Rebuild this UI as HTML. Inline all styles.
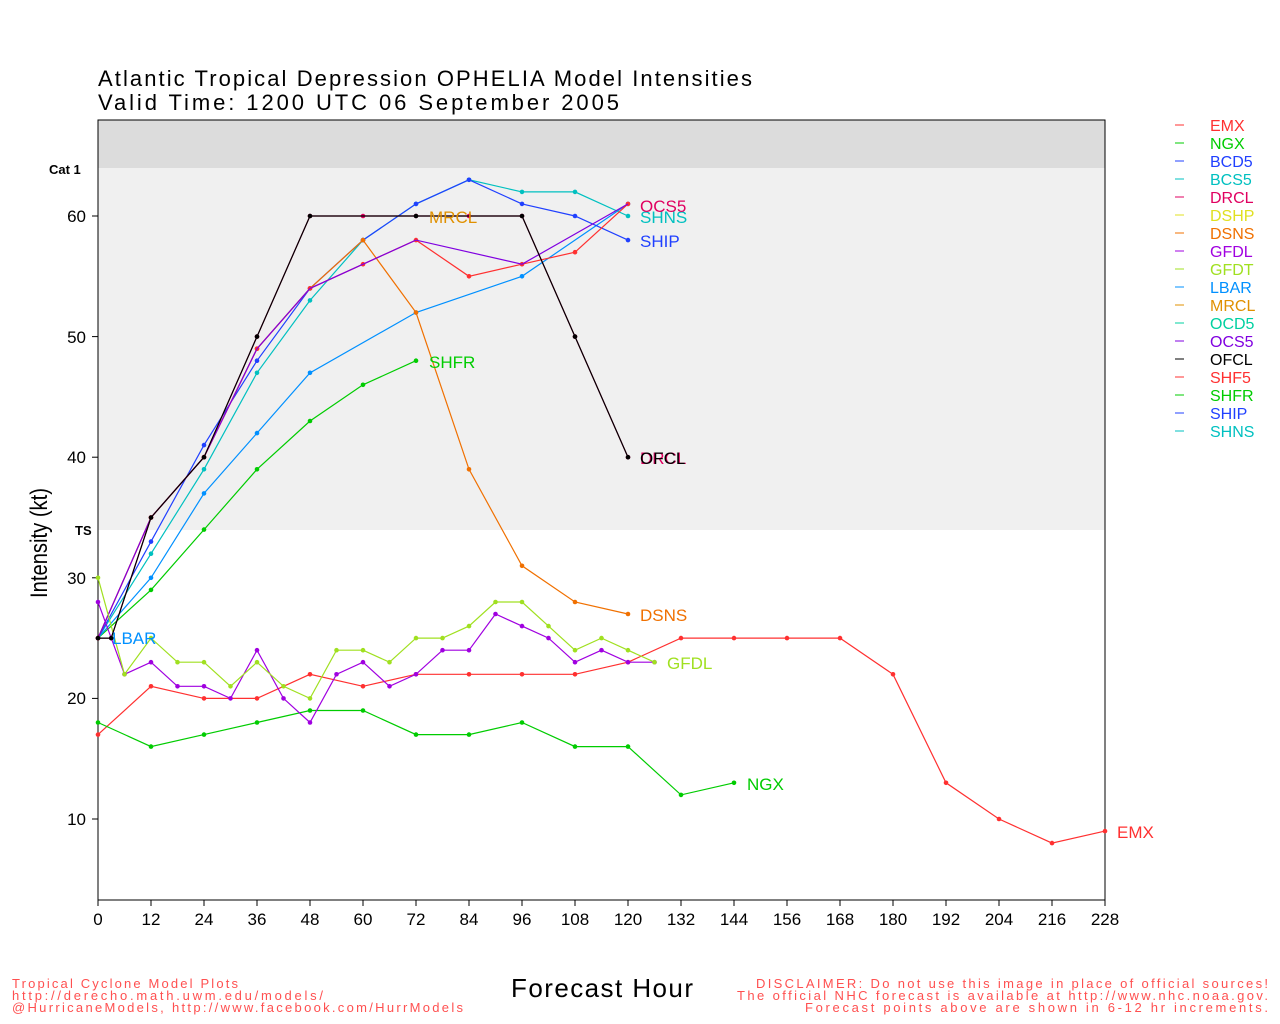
<!DOCTYPE html>
<html><head><meta charset="utf-8"><style>
html,body{margin:0;padding:0;background:#fff;}
svg{display:block;font-family:"Liberation Sans",sans-serif;}
</style></head><body>
<svg width="1280" height="1024" xmlns="http://www.w3.org/2000/svg">
<defs>
<marker id="m1" markerWidth="6" markerHeight="6" refX="3" refY="3" markerUnits="userSpaceOnUse"><circle cx="3" cy="3" r="2.3" fill="#ff3030"/></marker>
<marker id="m2" markerWidth="6" markerHeight="6" refX="3" refY="3" markerUnits="userSpaceOnUse"><circle cx="3" cy="3" r="2.3" fill="#00cc00"/></marker>
<marker id="m3" markerWidth="6" markerHeight="6" refX="3" refY="3" markerUnits="userSpaceOnUse"><circle cx="3" cy="3" r="2.3" fill="#0090ff"/></marker>
<marker id="m4" markerWidth="6" markerHeight="6" refX="3" refY="3" markerUnits="userSpaceOnUse"><circle cx="3" cy="3" r="2.3" fill="#00c0c0"/></marker>
<marker id="m5" markerWidth="6" markerHeight="6" refX="3" refY="3" markerUnits="userSpaceOnUse"><circle cx="3" cy="3" r="2.3" fill="#2040ff"/></marker>
<marker id="m6" markerWidth="6" markerHeight="6" refX="3" refY="3" markerUnits="userSpaceOnUse"><circle cx="3" cy="3" r="2.3" fill="#f07000"/></marker>
<marker id="m8" markerWidth="6" markerHeight="6" refX="3" refY="3" markerUnits="userSpaceOnUse"><circle cx="3" cy="3" r="2.3" fill="#a000e0"/></marker>
<marker id="m9" markerWidth="6" markerHeight="6" refX="3" refY="3" markerUnits="userSpaceOnUse"><circle cx="3" cy="3" r="2.3" fill="#a0e020"/></marker>
<marker id="m10" markerWidth="6" markerHeight="6" refX="3" refY="3" markerUnits="userSpaceOnUse"><circle cx="3" cy="3" r="2.3" fill="#e00060"/></marker>
<marker id="m11" markerWidth="6" markerHeight="6" refX="3" refY="3" markerUnits="userSpaceOnUse"><circle cx="3" cy="3" r="2.3" fill="#000"/></marker>
</defs>
<rect x="98" y="120" width="1007" height="48" fill="#dcdcdc"/>
<rect x="98" y="168" width="1007" height="362" fill="#f0f0f0"/>
<rect x="98" y="120" width="1007" height="780" fill="none" stroke="#000" stroke-width="1"/>
<text x="98" y="86" font-size="22" textLength="654" lengthAdjust="spacing">Atlantic Tropical Depression OPHELIA Model Intensities</text>
<text x="98" y="110" font-size="22" textLength="521" lengthAdjust="spacing">Valid Time: 1200 UTC 06 September 2005</text>
<text x="49" y="174" font-size="13" font-weight="bold">Cat 1</text>
<text x="75" y="535" font-size="13" font-weight="bold">TS</text>
<text transform="translate(47,543) rotate(-90)" font-size="24" text-anchor="middle" textLength="110" lengthAdjust="spacingAndGlyphs">Intensity (kt)</text>
<text x="511" y="997" font-size="26" textLength="182" lengthAdjust="spacing">Forecast Hour</text>
<g font-size="13" fill="#ff5050">
<text x="12" y="988" textLength="226" lengthAdjust="spacing">Tropical Cyclone Model Plots</text>
<text x="12" y="1000" textLength="311" lengthAdjust="spacing">http://derecho.math.uwm.edu/models/</text>
<text x="12" y="1012" textLength="451" lengthAdjust="spacing">@HurricaneModels, http://www.facebook.com/HurrModels</text>
<text x="756" y="988" textLength="512" lengthAdjust="spacing">DISCLAIMER: Do not use this image in place of official sources!</text>
<text x="737" y="1000" textLength="531" lengthAdjust="spacing">The official NHC forecast is available at http://www.nhc.noaa.gov.</text>
<text x="805" y="1012" textLength="463" lengthAdjust="spacing">Forecast points above are shown in 6-12 hr increments.</text>
</g>
<g stroke="#000">
<line x1="98" y1="900" x2="98" y2="906"/><line x1="151" y1="900" x2="151" y2="906"/><line x1="204" y1="900" x2="204" y2="906"/><line x1="257" y1="900" x2="257" y2="906"/><line x1="310" y1="900" x2="310" y2="906"/><line x1="363" y1="900" x2="363" y2="906"/><line x1="416" y1="900" x2="416" y2="906"/><line x1="469" y1="900" x2="469" y2="906"/><line x1="522" y1="900" x2="522" y2="906"/><line x1="575" y1="900" x2="575" y2="906"/><line x1="628" y1="900" x2="628" y2="906"/><line x1="681" y1="900" x2="681" y2="906"/><line x1="734" y1="900" x2="734" y2="906"/><line x1="787" y1="900" x2="787" y2="906"/><line x1="840" y1="900" x2="840" y2="906"/><line x1="893" y1="900" x2="893" y2="906"/><line x1="946" y1="900" x2="946" y2="906"/><line x1="999" y1="900" x2="999" y2="906"/><line x1="1052" y1="900" x2="1052" y2="906"/><line x1="1105" y1="900" x2="1105" y2="906"/>
<line x1="92" y1="819" x2="98" y2="819"/><line x1="92" y1="698.4" x2="98" y2="698.4"/><line x1="92" y1="577.8" x2="98" y2="577.8"/><line x1="92" y1="457.2" x2="98" y2="457.2"/><line x1="92" y1="336.6" x2="98" y2="336.6"/><line x1="92" y1="216" x2="98" y2="216"/>
</g>
<g font-size="17" text-anchor="middle">
<text x="98" y="925">0</text><text x="151" y="925">12</text><text x="204" y="925">24</text><text x="257" y="925">36</text><text x="310" y="925">48</text><text x="363" y="925">60</text><text x="416" y="925">72</text><text x="469" y="925">84</text><text x="522" y="925">96</text><text x="575" y="925">108</text><text x="628" y="925">120</text><text x="681" y="925">132</text><text x="734" y="925">144</text><text x="787" y="925">156</text><text x="840" y="925">168</text><text x="893" y="925">180</text><text x="946" y="925">192</text><text x="999" y="925">204</text><text x="1052" y="925">216</text><text x="1105" y="925">228</text>
</g>
<g font-size="17" text-anchor="end">
<text x="86" y="825">10</text><text x="86" y="704">20</text><text x="86" y="584">30</text><text x="86" y="463">40</text><text x="86" y="343">50</text><text x="86" y="222">60</text>
</g>
<g fill="none" stroke-width="1.2">
<polyline stroke="#ff3030" marker-start="url(#m1)" marker-mid="url(#m1)" marker-end="url(#m1)" points="98,734.6 151,686.3 204,698.4 257,698.4 310,674.3 363,686.3 416,674.3 469,674.3 522,674.3 575,674.3 628,662.2 681,638.1 734,638.1 787,638.1 840,638.1 893,674.3 946,782.8 999,819 1052,843.1 1105,831.1"/>
<polyline stroke="#00cc00" marker-start="url(#m2)" marker-mid="url(#m2)" marker-end="url(#m2)" points="98,722.5 151,746.6 204,734.6 257,722.5 310,710.5 363,710.5 416,734.6 469,734.6 522,722.5 575,746.6 628,746.6 681,794.9 734,782.8"/>
<polyline stroke="#00cc00" marker-start="url(#m2)" marker-mid="url(#m2)" marker-end="url(#m2)" points="98,638.1 151,589.9 204,529.6 257,469.3 310,421 363,384.8 416,360.7"/>
<polyline stroke="#0090ff" marker-start="url(#m3)" marker-mid="url(#m3)" marker-end="url(#m3)" points="98,638.1 151,577.8 204,493.4 257,433.1 310,372.8 416,312.5 522,276.3 628,203.9"/>
<polyline stroke="#00c0c0" marker-start="url(#m4)" marker-mid="url(#m4)" marker-end="url(#m4)" points="98,638.1 151,553.7 204,469.3 257,372.8 310,300.4 363,240.1 416,203.9 469,179.8 522,191.9 575,191.9 628,216"/>
<polyline stroke="#2040ff" marker-start="url(#m5)" marker-mid="url(#m5)" marker-end="url(#m5)" points="98,638.1 151,541.6 204,445.1 257,360.7 310,288.4 363,240.1 416,203.9 469,179.8 522,203.9 575,216 628,240.1"/>
<polyline stroke="#f07000" marker-start="url(#m6)" marker-mid="url(#m6)" marker-end="url(#m6)" points="98,638.1 151,517.5 204,457.2 257,348.7 310,288.4 363,240.1 416,312.5 469,469.3 522,565.8 575,602 628,614"/>
<polyline stroke="#ff3030" marker-start="url(#m1)" marker-mid="url(#m1)" marker-end="url(#m1)" points="98,638.1 151,517.5 204,457.2 257,348.7 310,288.4 363,264.2 416,240.1 469,276.3 522,264.2 575,252.2 628,203.9"/>
<polyline stroke="#8000e0" points="98,638.1 151,517.5 204,457.2 257,348.7 310,288.4 363,264.2 416,240.1 522,264.2 628,203.9"/>
<polyline stroke="#a000e0" marker-start="url(#m8)" marker-mid="url(#m8)" marker-end="url(#m8)" points="98,602 124.5,674.3 151,662.2 177.5,686.3 204,686.3 230.5,698.4 257,650.2 283.5,698.4 310,722.5 336.5,674.3 363,662.2 389.5,686.3 416,674.3 442.5,650.2 469,650.2 495.5,614 522,626.1 548.5,638.1 575,662.2 601.5,650.2 628,662.2 654.5,662.2"/>
<polyline stroke="#a0e020" marker-start="url(#m9)" marker-mid="url(#m9)" marker-end="url(#m9)" points="98,577.8 124.5,674.3 151,638.1 177.5,662.2 204,662.2 230.5,686.3 257,662.2 283.5,686.3 310,698.4 336.5,650.2 363,650.2 389.5,662.2 416,638.1 442.5,638.1 469,626.1 495.5,602 522,602 548.5,626.1 575,650.2 601.5,638.1 628,650.2 654.5,662.2"/>
<polyline stroke="#e00060" marker-start="url(#m10)" marker-mid="url(#m10)" marker-end="url(#m10)" points="98,638.1 111.2,638.1 151,517.5 204,457.2 257,336.6 310,216 363,216 416,216 469,216 522,216 575,336.6 628,457.2"/>
<polyline stroke="#000" marker-start="url(#m11)" marker-mid="url(#m11)" marker-end="url(#m11)" points="98,638.1 111.2,638.1 151,517.5 204,457.2 257,336.6 310,216 416,216 522,216 575,336.6 628,457.2"/>
</g>
<g font-size="17">
<text x="1117" y="838" fill="#ff3030">EMX</text>
<text x="747" y="790" fill="#00cc00">NGX</text>
<text x="429" y="368" fill="#00cc00">SHFR</text>
<text x="429" y="223" fill="#e09000">MRCL</text>
<text x="640" y="621" fill="#f07000">DSNS</text>
<text x="667" y="669" fill="#a0e020">GFDL</text>
<text x="640" y="464" fill="#e00060">DRCL</text>
<text x="640" y="464" fill="#000">OFCL</text>
<text x="640" y="247" fill="#2040ff">SHIP</text>
<text x="640" y="223" fill="#00c0c0">SHNS</text>
<text x="640" y="212" fill="#e00060">OCS5</text>
<text x="112" y="644" fill="#0090ff">LBAR</text>
</g>
<g font-size="16">
<line x1="1175" y1="125" x2="1184" y2="125" stroke="#ff3030"/><text x="1210" y="131" fill="#ff3030">EMX</text>
<line x1="1175" y1="143" x2="1184" y2="143" stroke="#00cc00"/><text x="1210" y="149" fill="#00cc00">NGX</text>
<line x1="1175" y1="161" x2="1184" y2="161" stroke="#2040ff"/><text x="1210" y="167" fill="#2040ff">BCD5</text>
<line x1="1175" y1="179" x2="1184" y2="179" stroke="#00c0c0"/><text x="1210" y="185" fill="#00c0c0">BCS5</text>
<line x1="1175" y1="197" x2="1184" y2="197" stroke="#e00060"/><text x="1210" y="203" fill="#e00060">DRCL</text>
<line x1="1175" y1="215" x2="1184" y2="215" stroke="#e0e020"/><text x="1210" y="221" fill="#e0e020">DSHP</text>
<line x1="1175" y1="233" x2="1184" y2="233" stroke="#f07000"/><text x="1210" y="239" fill="#f07000">DSNS</text>
<line x1="1175" y1="251" x2="1184" y2="251" stroke="#a000e0"/><text x="1210" y="257" fill="#a000e0">GFDL</text>
<line x1="1175" y1="269" x2="1184" y2="269" stroke="#a0e020"/><text x="1210" y="275" fill="#a0e020">GFDT</text>
<line x1="1175" y1="287" x2="1184" y2="287" stroke="#0090ff"/><text x="1210" y="293" fill="#0090ff">LBAR</text>
<line x1="1175" y1="305" x2="1184" y2="305" stroke="#e09000"/><text x="1210" y="311" fill="#e09000">MRCL</text>
<line x1="1175" y1="323" x2="1184" y2="323" stroke="#00d0a0"/><text x="1210" y="329" fill="#00d0a0">OCD5</text>
<line x1="1175" y1="341" x2="1184" y2="341" stroke="#8000e0"/><text x="1210" y="347" fill="#8000e0">OCS5</text>
<line x1="1175" y1="359" x2="1184" y2="359" stroke="#000"/><text x="1210" y="365" fill="#000">OFCL</text>
<line x1="1175" y1="377" x2="1184" y2="377" stroke="#ff3030"/><text x="1210" y="383" fill="#ff3030">SHF5</text>
<line x1="1175" y1="395" x2="1184" y2="395" stroke="#00cc00"/><text x="1210" y="401" fill="#00cc00">SHFR</text>
<line x1="1175" y1="413" x2="1184" y2="413" stroke="#2040ff"/><text x="1210" y="419" fill="#2040ff">SHIP</text>
<line x1="1175" y1="431" x2="1184" y2="431" stroke="#00c0c0"/><text x="1210" y="437" fill="#00c0c0">SHNS</text>
</g>
</svg>
</body></html>
